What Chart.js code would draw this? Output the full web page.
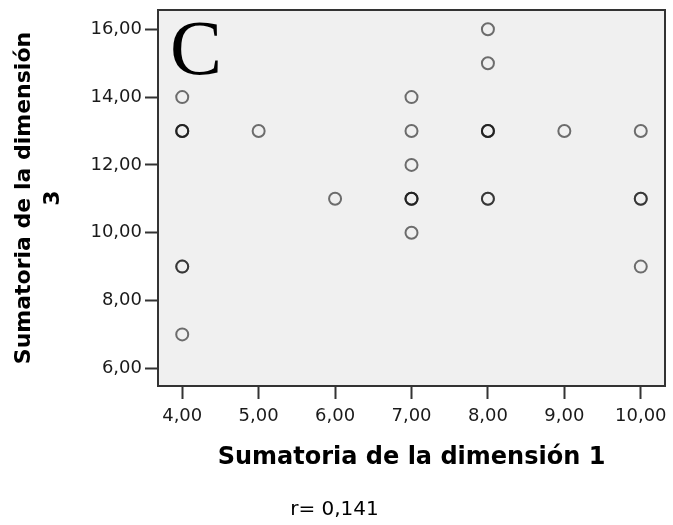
<!DOCTYPE html>
<html>
<head>
<meta charset="utf-8">
<script src="https://cdn.jsdelivr.net/npm/chart.js@4/dist/chart.umd.min.js"></script>
<style>
  html, body { margin: 0; padding: 0; background: #ffffff; }
  #wrap { width: 673px; height: 525px; position: relative; }
</style>
</head>
<body>
<div id="wrap"><canvas id="c" width="673" height="525"></canvas></div>
<script>
// Sumatoria de la dimensión 1 (x) and dimensión 3 (y); repeated pairs are overlapping cases
const dim1 = [4, 4, 4, 4, 4, 4, 4, 5, 6, 7, 7, 7, 7, 7, 7, 7, 8, 8, 8, 8, 8, 8, 8, 9, 10, 10, 10, 10];
const dim3 = [14, 13, 13, 13, 9, 9, 7, 13, 11, 14, 13, 12, 11, 11, 11, 10, 16, 15, 13, 13, 13, 11, 11, 13, 13, 11, 11, 9];

const xTicks = [4, 5, 6, 7, 8, 9, 10];
const xTickLabels = ['4,00', '5,00', '6,00', '7,00', '8,00', '9,00', '10,00'];
const yTicks = [6, 8, 10, 12, 14, 16];
const yTickLabels = ['6,00', '8,00', '10,00', '12,00', '14,00', '16,00'];

const xTitle = 'Sumatoria de la dimensión 1';
const yTitle = ['Sumatoria de la dimensión', '3'];
const panelLabel = 'C';
const footnote = 'r= 0,141';

const points = dim1.map((x, i) => ({ x: x, y: dim3[i] }));

const framePlugin = {
  id: 'frame',
  beforeDatasetsDraw(chart) {
    const { ctx, chartArea: a } = chart;
    ctx.save();
    ctx.fillStyle = '#f0f0f0';
    ctx.fillRect(a.left, a.top, a.right - a.left, a.bottom - a.top);
    ctx.strokeStyle = '#333333';
    ctx.lineWidth = 2;
    ctx.strokeRect(a.left, a.top, a.right - a.left, a.bottom - a.top);
    ctx.font = '78px "Liberation Serif"';
    ctx.fillStyle = '#000000';
    ctx.textBaseline = 'alphabetic';
    ctx.textAlign = 'left';
    ctx.fillText(panelLabel, a.left + 12, a.top + 64);
    ctx.restore();
  }
};

new Chart(document.getElementById('c'), {
  type: 'scatter',
  data: {
    datasets: [{
      data: points,
      pointStyle: 'circle',
      pointRadius: 6,
      pointHoverRadius: 6,
      pointBorderWidth: 2,
      pointBorderColor: 'rgba(20,20,20,0.6)',
      pointBackgroundColor: 'rgba(0,0,0,0)'
    }]
  },
  options: {
    responsive: false,
    animation: false,
    devicePixelRatio: 1,
    layout: { padding: { left: 0, top: 10, right: 4, bottom: 0 } },
    plugins: {
      legend: { display: false },
      tooltip: { enabled: false },
      title: {
        display: true,
        position: 'bottom',
        text: footnote,
        color: '#000000',
        font: { family: '"DejaVu Sans"', size: 20, weight: 'normal' },
        padding: { top: 0, bottom: 3 }
      }
    },
    scales: {
      x: {
        type: 'linear',
        min: 3.683,
        max: 10.317,
        afterFit(s) { s.height = 112; s.paddingLeft = 0; s.paddingRight = 0; },
        afterBuildTicks(s) { s.ticks = xTicks.map(v => ({ value: v })); },
        ticks: {
          callback: (v) => xTickLabels[xTicks.indexOf(v)],
          color: '#1a1a1a',
          font: { family: '"DejaVu Sans"', size: 18 },
          padding: 7,
          maxRotation: 0,
          autoSkip: false
        },
        grid: { drawOnChartArea: false, drawTicks: true, tickLength: 13, tickColor: '#333333', tickWidth: 2 },
        border: { display: false },
        title: {
          display: true,
          text: xTitle,
          color: '#000000',
          font: { family: '"DejaVu Sans"', size: 24, weight: 'bold' },
          padding: { top: 0, bottom: 25.6 }
        }
      },
      y: {
        type: 'linear',
        min: 5.478,
        max: 16.57,
        afterFit(s) { s.width = 158; s.paddingTop = 0; s.paddingBottom = 0; },
        afterBuildTicks(s) { s.ticks = yTicks.map(v => ({ value: v })); },
        ticks: {
          callback: (v) => yTickLabels[yTicks.indexOf(v)],
          color: '#1a1a1a',
          font: { family: '"DejaVu Sans"', size: 18 },
          padding: 3,
          autoSkip: false
        },
        grid: { drawOnChartArea: false, drawTicks: true, tickLength: 13, tickColor: '#333333', tickWidth: 2 },
        border: { display: false },
        title: {
          display: true,
          text: yTitle,
          color: '#000000',
          font: { family: '"DejaVu Sans"', size: 22, weight: 'bold', lineHeight: 1.3 },
          padding: { top: 10, bottom: 0 }
        }
      }
    }
  },
  plugins: [framePlugin]
});
</script>
</body>
</html>
